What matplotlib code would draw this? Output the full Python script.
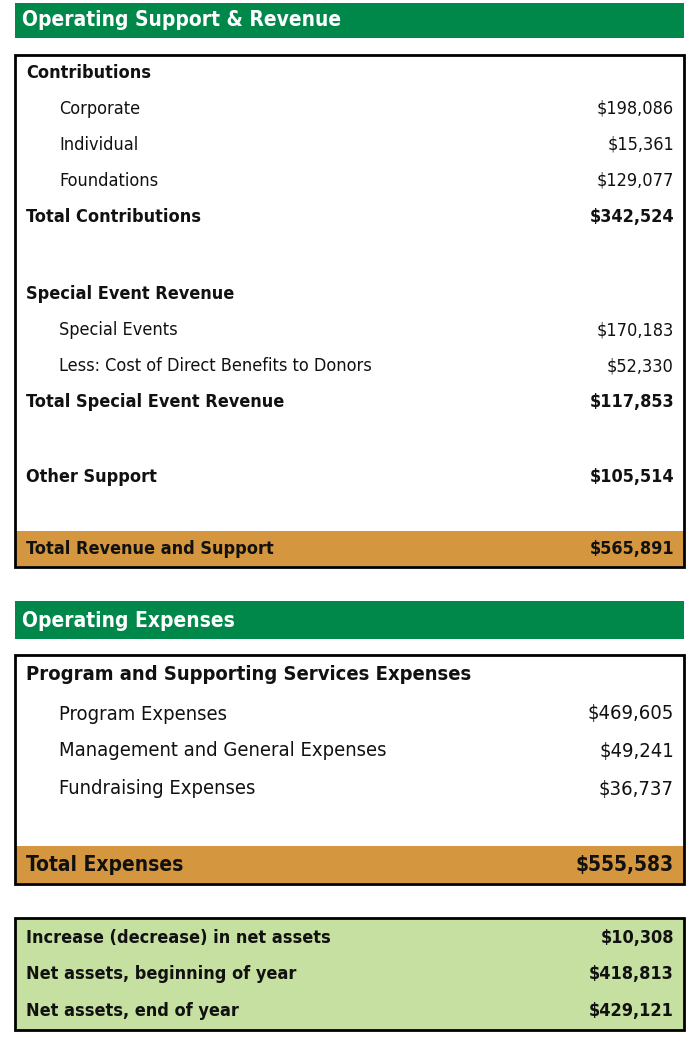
import matplotlib.pyplot as plt
from matplotlib.patches import Rectangle

GREEN = "#00874a"
ORANGE = "#d4973f"
LIGHT = "#c5e0a0"

# section 1
rev_labels = ["Contributions", "Corporate", "Individual", "Foundations", "Total Contributions",
              "Special Event Revenue", "Special Events", "Less: Cost of Direct Benefits to Donors",
              "Total Special Event Revenue", "Other Support"]
rev_values = ["", "$198,086", "$15,361", "$129,077", "$342,524",
              "", "$170,183", "$52,330", "$117,853", "$105,514"]
rev_bold = [True, False, False, False, True, True, False, False, True, True]
rev_y = [73, 109, 145, 181, 217, 294, 330, 366, 402, 477]
rev_total = ("Total Revenue and Support", "$565,891")

# section 2
exp_labels = ["Program and Supporting Services Expenses", "Program Expenses",
              "Management and General Expenses", "Fundraising Expenses"]
exp_values = ["", "$469,605", "$49,241", "$36,737"]
exp_bold = [True, False, False, False]
exp_y = [675, 714, 751, 789]
exp_total = ("Total Expenses", "$555,583")

# net assets
net_labels = ["Increase (decrease) in net assets", "Net assets, beginning of year",
              "Net assets, end of year"]
net_values = ["$10,308", "$418,813", "$429,121"]
net_y = [938, 974, 1011]

plt.rcParams["font.family"] = ["DejaVu Sans"]
plt.rcParams["font.stretch"] = "condensed"
fig = plt.figure(figsize=(7, 10.44), dpi=100)
ax = fig.add_axes([0, 0, 1, 1])
ax.set_xlim(0, 700)
ax.set_ylim(1044, 0)
ax.axis("off")

L, R = 15, 684


def rect(y0, y1, fc, ec="none", lw=0):
    ax.add_patch(Rectangle((L, y0), R - L, y1 - y0, facecolor=fc, edgecolor=ec, linewidth=lw))


def row(y, label, value, bold, size=13):
    w = "bold" if bold else "normal"
    x = 26 if bold else 59
    ax.text(x, y, label, fontsize=size, fontweight=w, va="center", ha="left", color="#111",
            fontstretch="condensed")
    if value:
        ax.text(674, y, value, fontsize=size, fontweight=w, va="center", ha="right", color="#111",
                fontstretch="condensed")


rect(3, 38, GREEN)
ax.text(22, 20, "Operating Support & Revenue", color="white", fontsize=15, fontweight="bold",
        va="center", fontstretch="condensed")
rect(531, 566, ORANGE)
rect(55, 567, "none", "black", 2)
for lab, val, b, y in zip(rev_labels, rev_values, rev_bold, rev_y):
    row(y, lab, val, b)
row(549, rev_total[0], rev_total[1], True)

rect(601, 639, GREEN)
ax.text(22, 621, "Operating Expenses", color="white", fontsize=15, fontweight="bold",
        va="center", fontstretch="condensed")
rect(846, 883, ORANGE)
rect(655, 884, "none", "black", 2)
for lab, val, b, y in zip(exp_labels, exp_values, exp_bold, exp_y):
    row(y, lab, val, b, size=14.5)
row(865, exp_total[0], exp_total[1], True, size=15)

rect(918, 1030, LIGHT, "black", 2)
for lab, val, y in zip(net_labels, net_values, net_y):
    row(y, lab, val, True)

fig.savefig("out.png", dpi=100)
